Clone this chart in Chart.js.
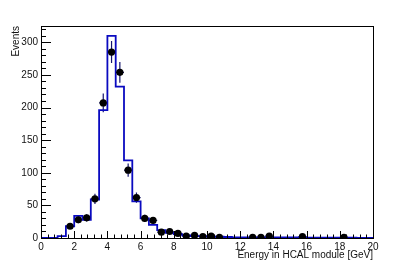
<!DOCTYPE html>
<html>
<head>
<meta charset="utf-8">
<script src="https://cdn.jsdelivr.net/npm/chart.js@4"></script>
<style>
  html, body { margin: 0; padding: 0; background: #fff; }
  #wrap { width: 415px; height: 265px; }
</style>
</head>
<body>
<div id="wrap"><canvas id="myChart" width="415" height="265"></canvas></div>
<script>
// histogram bins (lower edges, GeV) and counts
var binLow = [0, 0.5, 1, 1.5, 2, 2.5, 3, 3.5, 4, 4.5, 5, 5.5, 6, 6.5, 7, 7.5, 8, 8.5, 9, 9.5,
              10, 10.5, 11, 11.5, 12, 12.5, 13, 13.5, 14, 14.5, 15, 15.5, 16, 16.5, 17, 17.5, 18, 18.5, 19, 19.5, 20];
var histCounts = [0, 0, 3, 18, 34, 28, 59, 196, 310, 232, 119, 56, 30, 20, 12, 8, 6, 4, 3, 3,
                  2, 2, 1.5, 1, 1, 1, 1, 1, 1, 0.8, 0.8, 0.8, 0.6, 0.6, 0.5, 0.5, 0.5, 0.4, 0.3, 0.3, 0.3];

// data points (bin centres), counts and errors
var dataX = [1.75, 2.25, 2.75, 3.25, 3.75, 4.25, 4.75, 5.25, 5.75, 6.25, 6.75, 7.25, 7.75, 8.25,
             8.75, 9.25, 9.75, 10.25, 10.75, 12.75, 13.25, 13.75, 15.75, 18.25];
var dataY = [18, 28, 31, 60, 207, 285, 254, 104, 62, 30, 27, 9, 10, 7,
             3, 4, 2, 3, 1, 1, 1, 3, 2, 1];
var dataErr = [4.2, 5.3, 5.6, 7.7, 14.4, 16.9, 15.9, 10.2, 7.9, 5.5, 5.2, 3, 3.2, 2.6,
               1.7, 2, 1.4, 1.7, 1, 1, 1, 1.7, 1.4, 1];
var binHalf = 0.25;

var yTickVals = [0, 50, 100, 150, 200, 250, 300];
var xTickVals = [0, 2, 4, 6, 8, 10, 12, 14, 16, 18, 20];

var xTitle = 'Energy in HCAL module [GeV]';
var yTitle = 'Events';
var FONT = '"Liberation Sans", Arial, sans-serif';

var histPts = [];
for (var i = 0; i < binLow.length; i++) histPts.push({x: binLow[i], y: histCounts[i]});
var dataPts = [];
for (var j = 0; j < dataX.length; j++) dataPts.push({x: dataX[j], y: dataY[j]});

// frame, inward ticks, error bars and axis titles (ROOT look)
var rootStyle = {
  id: 'rootStyle',
  beforeDatasetsDraw: function(chart) {
    var ctx = chart.ctx, xs = chart.scales.x, ys = chart.scales.y;
    ctx.save();
    ctx.strokeStyle = '#15156e';
    ctx.lineWidth = 1.2;
    for (var k = 0; k < dataX.length; k++) {
      var px = xs.getPixelForValue(dataX[k]);
      var py = ys.getPixelForValue(dataY[k]);
      var lo = ys.getPixelForValue(Math.max(0, dataY[k] - dataErr[k]));
      var hi = ys.getPixelForValue(dataY[k] + dataErr[k]);
      ctx.beginPath();
      ctx.moveTo(px, lo); ctx.lineTo(px, hi);
      ctx.moveTo(xs.getPixelForValue(dataX[k] - binHalf), py);
      ctx.lineTo(xs.getPixelForValue(dataX[k] + binHalf), py);
      ctx.stroke();
    }
    ctx.restore();
  },
  afterDraw: function(chart) {
    var ctx = chart.ctx, a = chart.chartArea, xs = chart.scales.x, ys = chart.scales.y;
    ctx.save();
    ctx.strokeStyle = '#000';
    ctx.lineWidth = 1;
    ctx.strokeRect(Math.round(a.left) + 0.5, Math.round(a.top) + 0.5,
                   Math.round(a.right - a.left), Math.round(a.bottom - a.top));
    ctx.beginPath();
    // y ticks: major 50, minor 10
    for (var v = 0; v <= 325; v += 10) {
      var py = Math.round(ys.getPixelForValue(v)) + 0.5;
      var len = (v % 50 === 0) ? 10 : 5;
      ctx.moveTo(a.left, py); ctx.lineTo(a.left + len, py);
    }
    // x ticks: major 2, minor 0.4
    for (var t = 0; t <= 50; t++) {
      var xv = t * 0.4;
      var px = Math.round(xs.getPixelForValue(xv)) + 0.5;
      var l2 = (t % 5 === 0) ? 7 : 3.5;
      ctx.moveTo(px, a.bottom); ctx.lineTo(px, a.bottom - l2);
    }
    ctx.stroke();

    ctx.fillStyle = '#111';
    ctx.font = '10px ' + FONT;
    ctx.textAlign = 'right';
    ctx.textBaseline = 'alphabetic';
    ctx.fillText(xTitle, a.right, 258);
    ctx.translate(19, a.top);
    ctx.rotate(-Math.PI / 2);
    ctx.textAlign = 'right';
    ctx.fillText(yTitle, 0, 0);
    ctx.restore();
  }
};

window.onload = function() {
  var ctx = document.getElementById('myChart');
  var myChart = new Chart(ctx, {
    type: 'line',
    data: {
      datasets: [{
        label: 'data',
        data: dataPts,
        showLine: false,
        pointRadius: 3.6,
        pointBackgroundColor: '#000',
        pointBorderColor: '#000',
        pointBorderWidth: 0,
        order: 0
      }, {
        label: 'MC',
        data: histPts,
        stepped: 'before',
        borderColor: '#0a0ac0',
        borderWidth: 1.8,
        pointRadius: 0,
        fill: false,
        order: 1
      }]
    },
    options: {
      responsive: false,
      animation: false,
      layout: { padding: { top: 26, right: 42, left: 0, bottom: 0 } },
      plugins: { legend: { display: false }, tooltip: { enabled: false } },
      scales: {
        x: {
          type: 'linear', min: 0, max: 20,
          grid: { display: false, drawTicks: false },
          border: { display: false },
          afterFit: function(s) { s.height = 27; },
          afterBuildTicks: function(s) { s.ticks = xTickVals.map(function(v) { return {value: v}; }); },
          ticks: { padding: 3, color: '#111', maxRotation: 0,
                   font: { family: FONT, size: 10 } }
        },
        y: {
          min: 0, max: 325,
          grid: { display: false, drawTicks: false },
          border: { display: false },
          afterFit: function(s) { s.width = 41; },
          afterBuildTicks: function(s) { s.ticks = yTickVals.map(function(v) { return {value: v}; }); },
          ticks: { padding: 3, color: '#111',
                   font: { family: FONT, size: 10 } }
        }
      }
    },
    plugins: [rootStyle]
  });
};
</script>
</body>
</html>
